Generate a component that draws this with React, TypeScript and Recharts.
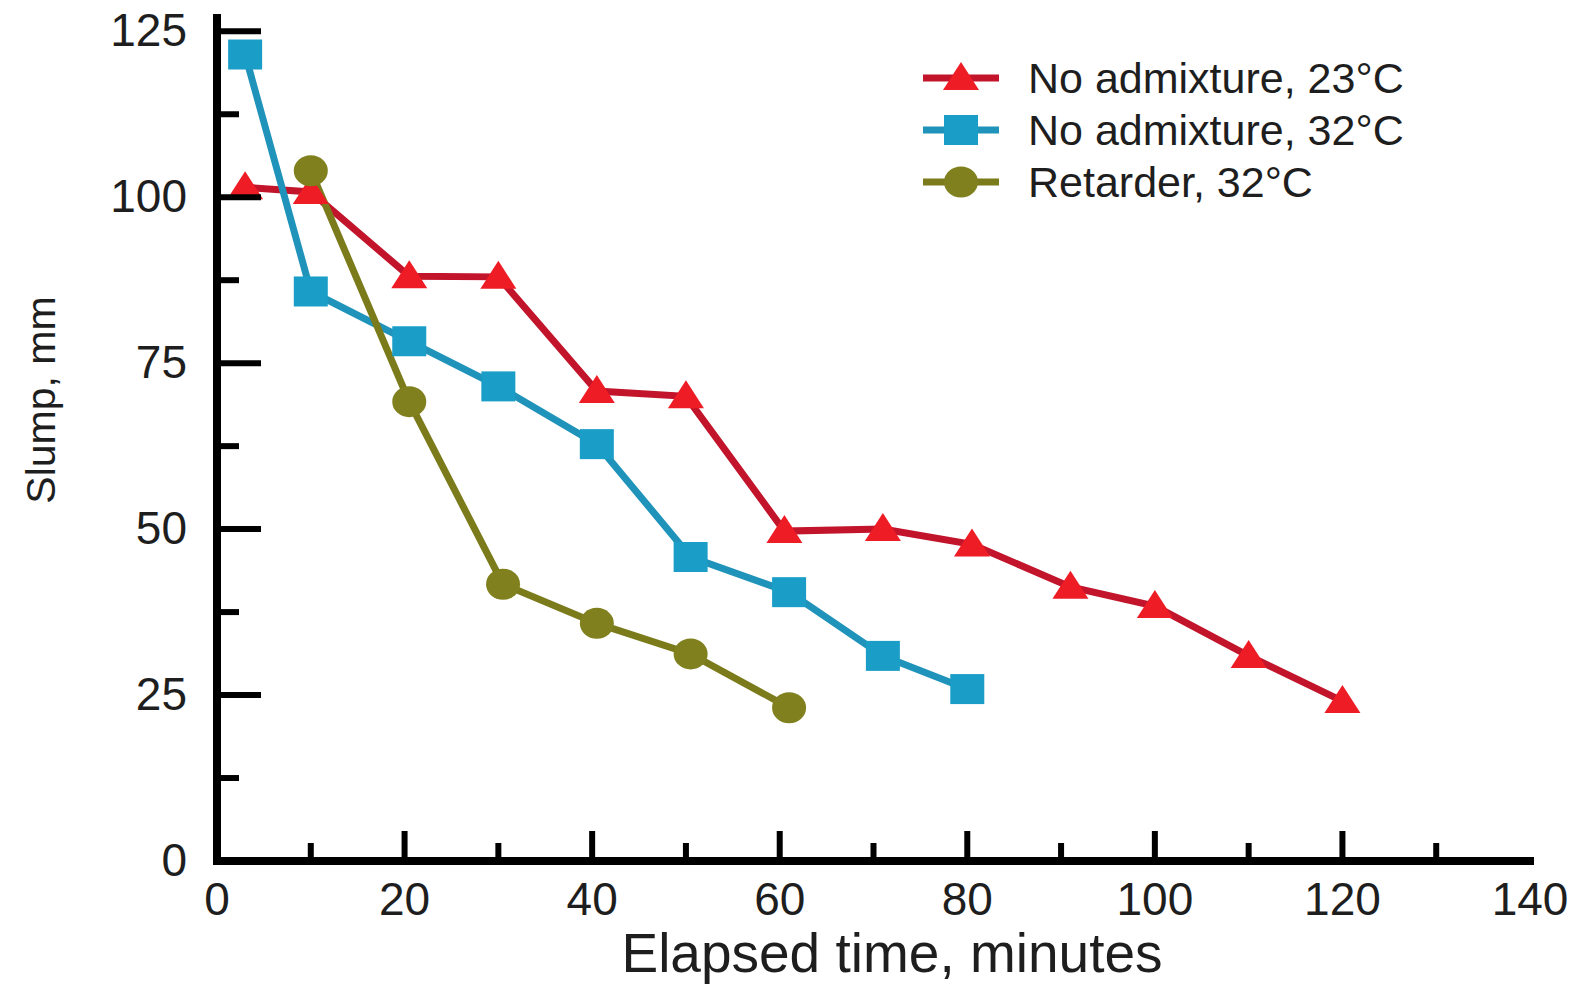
import React from 'react';
import { LineChart, Line, XAxis, YAxis, Legend, Label } from 'recharts';

// ---- data ----
const RED_T = [3, 10, 20.5, 30, 40.5, 50, 60.5, 71, 80.5, 91, 100, 110, 120];
const RED_V = [101.5, 100.8, 88.1, 88, 70.8, 70, 49.7, 50, 47.7, 41.3, 38.4, 30.9, 24.1];

const BLUE_T = [3, 10, 20.5, 30, 40.5, 50.5, 61, 71, 80];
const BLUE_V = [121.5, 85.8, 78.3, 71.5, 62.8, 45.8, 40.5, 30.9, 25.9];

const OLIVE_T = [10, 20.5, 30.5, 40.5, 50.5, 61];
const OLIVE_V = [104, 69.2, 41.7, 35.8, 31.2, 23.1];

const SERIES_NAMES = ['No admixture, 23°C', 'No admixture, 32°C', 'Retarder, 32°C'];

const X_TICKS = [0, 10, 20, 30, 40, 50, 60, 70, 80, 90, 100, 110, 120, 130, 140];
const X_LABELED = [0, 20, 40, 60, 80, 100, 120, 140];
const Y_TICKS = [0, 12.5, 25, 37.5, 50, 62.5, 75, 87.5, 100, 112.5, 125];
const Y_LABELED = [0, 25, 50, 75, 100, 125];

const X_TITLE = 'Elapsed time, minutes';
const Y_TITLE = 'Slump, mm';

// ---- layout / style (chart y = page y, chart x = page x - 8) ----
const W = 1565;
const H = 987;
const PLOT_LEFT = 209;
const PLOT_RIGHT = 1522;
const PLOT_TOP = 18;
const PLOT_BOTTOM = 861;
const FONT = '"Liberation Sans", Arial, Helvetica, sans-serif';
const TEXT = '#1e1e1e';

const RED_LINE = '#c2152b';
const RED_MARK = '#ee1c25';
const BLUE_LINE = '#1f93ba';
const BLUE_MARK = '#1a9ec8';
const OLIVE_LINE = '#7b7b1c';
const OLIVE_MARK = '#80801e';

const toPoints = (ts: number[], vs: number[]) => ts.map((t, i) => ({ t, v: vs[i] }));
const redData = toPoints(RED_T, RED_V);
const blueData = toPoints(BLUE_T, BLUE_V);
const oliveData = toPoints(OLIVE_T, OLIVE_V);

const triangle = (cx: number, cy: number, fill: string, key?: any) => (
  <polygon key={key} points={`${cx},${cy - 16} ${cx + 18},${cy + 12} ${cx - 18},${cy + 12}`} fill={fill} />
);
const square = (cx: number, cy: number, fill: string, key?: any) => (
  <rect key={key} x={cx - 17} y={cy - 15} width={34} height={30} fill={fill} />
);
const circle = (cx: number, cy: number, fill: string, key?: any) => (
  <ellipse key={key} cx={cx} cy={cy} rx={17} ry={15.5} fill={fill} />
);

const XTick = (props: any) => {
  const { x, payload } = props;
  const v = payload.value;
  const major = X_LABELED.includes(v);
  const len = major ? 30 : 18;
  return (
    <g>
      {v !== 0 && v !== 140 && (
        <line x1={x} x2={x} y1={PLOT_BOTTOM} y2={PLOT_BOTTOM - len} stroke="#000" strokeWidth={6} />
      )}
      {major && (
        <text x={x} y={PLOT_BOTTOM + 54} textAnchor="middle" fontFamily={FONT} fontSize={46} fill={TEXT}>
          {v}
        </text>
      )}
    </g>
  );
};

const YTick = (props: any) => {
  const { y, payload } = props;
  const v = payload.value;
  const major = Y_LABELED.includes(v);
  const len = major ? 44 : 22;
  return (
    <g>
      {v !== 0 && (
        <line x1={PLOT_LEFT} x2={PLOT_LEFT + len} y1={y} y2={y} stroke="#000" strokeWidth={6} />
      )}
      {major && (
        <text x={PLOT_LEFT - 30} y={y + 15} textAnchor="end" fontFamily={FONT} fontSize={46} fill={TEXT}>
          {v}
        </text>
      )}
    </g>
  );
};

const LEGEND_ITEMS = [
  { name: SERIES_NAMES[0], line: RED_LINE, mark: RED_MARK, shape: triangle },
  { name: SERIES_NAMES[1], line: BLUE_LINE, mark: BLUE_MARK, shape: square },
  { name: SERIES_NAMES[2], line: OLIVE_LINE, mark: OLIVE_MARK, shape: circle },
];

const LegendBox = () => (
  <div style={{ fontFamily: FONT, fontSize: 43, color: TEXT }}>
    {LEGEND_ITEMS.map((it) => (
      <div key={it.name} style={{ display: 'flex', alignItems: 'center', height: 52 }}>
        <svg width={80} height={40} style={{ display: 'block' }}>
          <line x1={0} x2={76} y1={20} y2={20} stroke={it.line} strokeWidth={7} />
          {it.shape(38, 20, it.mark)}
        </svg>
        <span style={{ marginLeft: 25, whiteSpace: 'nowrap', lineHeight: '52px' }}>{it.name}</span>
      </div>
    ))}
  </div>
);

const axisLineStyle = { stroke: '#000', strokeWidth: 8, strokeLinecap: 'square' as const };

export default function App() {
  return (
    <div>
      <style>{'body{overflow:hidden;background:#fff;margin:0 0 0 8px;}'}</style>
      <LineChart
        width={W}
        height={H}
        margin={{ top: PLOT_TOP, right: W - PLOT_RIGHT, bottom: 0, left: 0 }}
      >
        <XAxis
          xAxisId="main"
          dataKey="t"
          type="number"
          domain={[0, 140]}
          ticks={X_TICKS}
          interval={0}
          allowDataOverflow
          height={H - PLOT_BOTTOM}
          axisLine={axisLineStyle}
          tickLine={false}
          tick={<XTick />}
        >
          <Label
            content={() => (
              <text x={884} y={972} textAnchor="middle" fontFamily={FONT} fontSize={55} fill={TEXT}>
                {X_TITLE}
              </text>
            )}
          />
        </XAxis>
        <XAxis
          xAxisId="top"
          orientation="top"
          dataKey="t"
          type="number"
          domain={[0, 140]}
          height={0}
          axisLine={axisLineStyle}
          tickLine={false}
          tick={false}
        />
        <YAxis
          yAxisId="main"
          dataKey="v"
          type="number"
          domain={[0, 127]}
          ticks={Y_TICKS}
          interval={0}
          allowDataOverflow
          width={PLOT_LEFT}
          axisLine={axisLineStyle}
          tickLine={false}
          tick={<YTick />}
        >
          <Label
            content={() => (
              <text
                x={33}
                y={400}
                transform="rotate(-90 33 400)"
                textAnchor="middle"
                dominantBaseline="central"
                fontFamily={FONT}
                fontSize={41}
                fill={TEXT}
              >
                {Y_TITLE}
              </text>
            )}
          />
        </YAxis>
        <YAxis
          yAxisId="right"
          orientation="right"
          type="number"
          domain={[0, 127]}
          width={0}
          axisLine={axisLineStyle}
          tickLine={false}
          tick={false}
        />
        <Legend
          layout="horizontal"
          verticalAlign="middle"
          align="center"
          wrapperStyle={{ top: 52, left: 915, width: 560, height: 160 }}
          content={() => <LegendBox />}
        />
        <Line
          xAxisId="main"
          yAxisId="main"
          data={redData}
          dataKey="v"
          name={SERIES_NAMES[0]}
          type="linear"
          stroke={RED_LINE}
          strokeWidth={7}
          isAnimationActive={false}
          activeDot={false}
          dot={(p: any) => triangle(p.cx, p.cy, RED_MARK, `r${p.index}`)}
        />
        <Line
          xAxisId="main"
          yAxisId="main"
          data={blueData}
          dataKey="v"
          name={SERIES_NAMES[1]}
          type="linear"
          stroke={BLUE_LINE}
          strokeWidth={7}
          isAnimationActive={false}
          activeDot={false}
          dot={(p: any) => square(p.cx, p.cy, BLUE_MARK, `b${p.index}`)}
        />
        <Line
          xAxisId="main"
          yAxisId="main"
          data={oliveData}
          dataKey="v"
          name={SERIES_NAMES[2]}
          type="linear"
          stroke={OLIVE_LINE}
          strokeWidth={7}
          isAnimationActive={false}
          activeDot={false}
          dot={(p: any) => circle(p.cx, p.cy, OLIVE_MARK, `o${p.index}`)}
        />
      </LineChart>
    </div>
  );
}
